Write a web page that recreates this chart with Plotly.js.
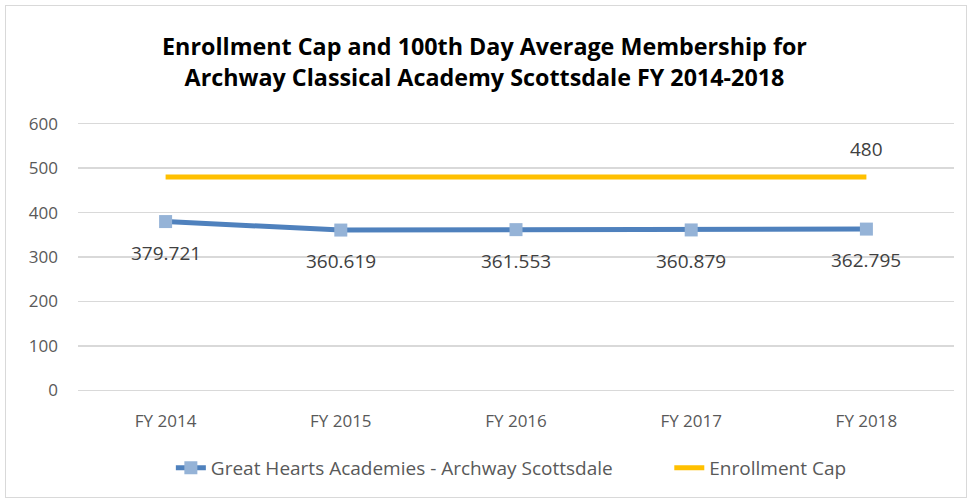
<!DOCTYPE html>
<html><head><meta charset="utf-8">
<script src="https://cdn.plot.ly/plotly-3.0.1.min.js"></script>
<style>
html,body{margin:0;padding:0;background:#fff;}
#wrap{position:relative;width:969px;height:499px;}
#chart{position:absolute;left:0;top:0;width:969px;height:499px;}
#frame{position:absolute;left:5px;top:5px;width:960px;height:491px;border:1px solid #d9d9d9;pointer-events:none;}
</style></head>
<body>
<div id="wrap"><div id="chart"></div><div id="frame"></div></div>
<script>
const categories = ["FY 2014","FY 2015","FY 2016","FY 2017","FY 2018"];
const membership = [379.721, 360.619, 361.553, 360.879, 362.795];
const cap = [480, 480, 480, 480, 480];
const membershipLabels = ["379.721","360.619","361.553","360.879","362.795"];
const capLabels = ["","","","","480"];
const seriesNames = ["Great Hearts Academies - Archway Scottsdale","Enrollment Cap"];
const titleText = "Enrollment Cap and 100th Day Average Membership for<br>Archway Classical Academy Scottsdale FY 2014-2018";

const FONT = "'Open Sans', Lato, sans-serif";
const traces = [
  {
    x: categories, y: membership, name: seriesNames[0], type: "scatter",
    mode: "lines+markers",
    line: {color: "#4F81BD", width: 5},
    marker: {symbol: "square", size: 13, color: "#95B3D7"},
    legend: "legend"
  },
  {
    x: categories, y: cap, name: seriesNames[1], type: "scatter",
    mode: "lines",
    line: {color: "#FFC000", width: 5},
    legend: "legend2"
  }
];
const annotations = [];
categories.forEach((c, i) => {
  if (membershipLabels[i]) annotations.push({x: c, y: membership[i], text: membershipLabels[i],
    showarrow: false, yshift: -31, font: {family: FONT, size: 19, color: "#404040"}});
  if (capLabels[i]) annotations.push({x: c, y: cap[i], text: capLabels[i],
    showarrow: false, yshift: 28, font: {family: FONT, size: 19, color: "#404040"}});
});
const layout = {
  width: 969, height: 499,
  margin: {l: 78, r: 15, t: 121, b: 103},
  paper_bgcolor: "#fff", plot_bgcolor: "#fff",
  font: {family: FONT, color: "#595959", size: 17},
  title: {text: titleText, x: 0.5, xanchor: "center", y: 0.889, yanchor: "middle",
          font: {family: FONT, size: 23.3, color: "#000", weight: "bold"}},
  xaxis: {type: "category", range: [-0.5, 4.5], showgrid: false, zeroline: false, showline: false,
          ticks: "", ticklabelstandoff: 16, tickfont: {size: 17, color: "#595959"}, fixedrange: true},
  yaxis: {range: [-6, 606], tickvals: [0,100,200,300,400,500,600], showgrid: true, gridcolor: "#d9d9d9", gridwidth: 1.3,
          zeroline: false, showline: false, ticks: "", ticklabelstandoff: 19,
          tickfont: {size: 17, color: "#595959"}, fixedrange: true},
  annotations: annotations,
  legend: {orientation: "h", x: 0.106, xanchor: "left", y: -0.275, yanchor: "middle",
           font: {size: 19, color: "#595959"}, bgcolor: "rgba(0,0,0,0)"},
  legend2: {orientation: "h", x: 0.675, xanchor: "left", y: -0.275, yanchor: "middle",
           font: {size: 19, color: "#595959"}, bgcolor: "rgba(0,0,0,0)"},
  showlegend: true
};
Plotly.newPlot("chart", traces, layout, {displayModeBar: false, staticPlot: true});
</script>
</body></html>
